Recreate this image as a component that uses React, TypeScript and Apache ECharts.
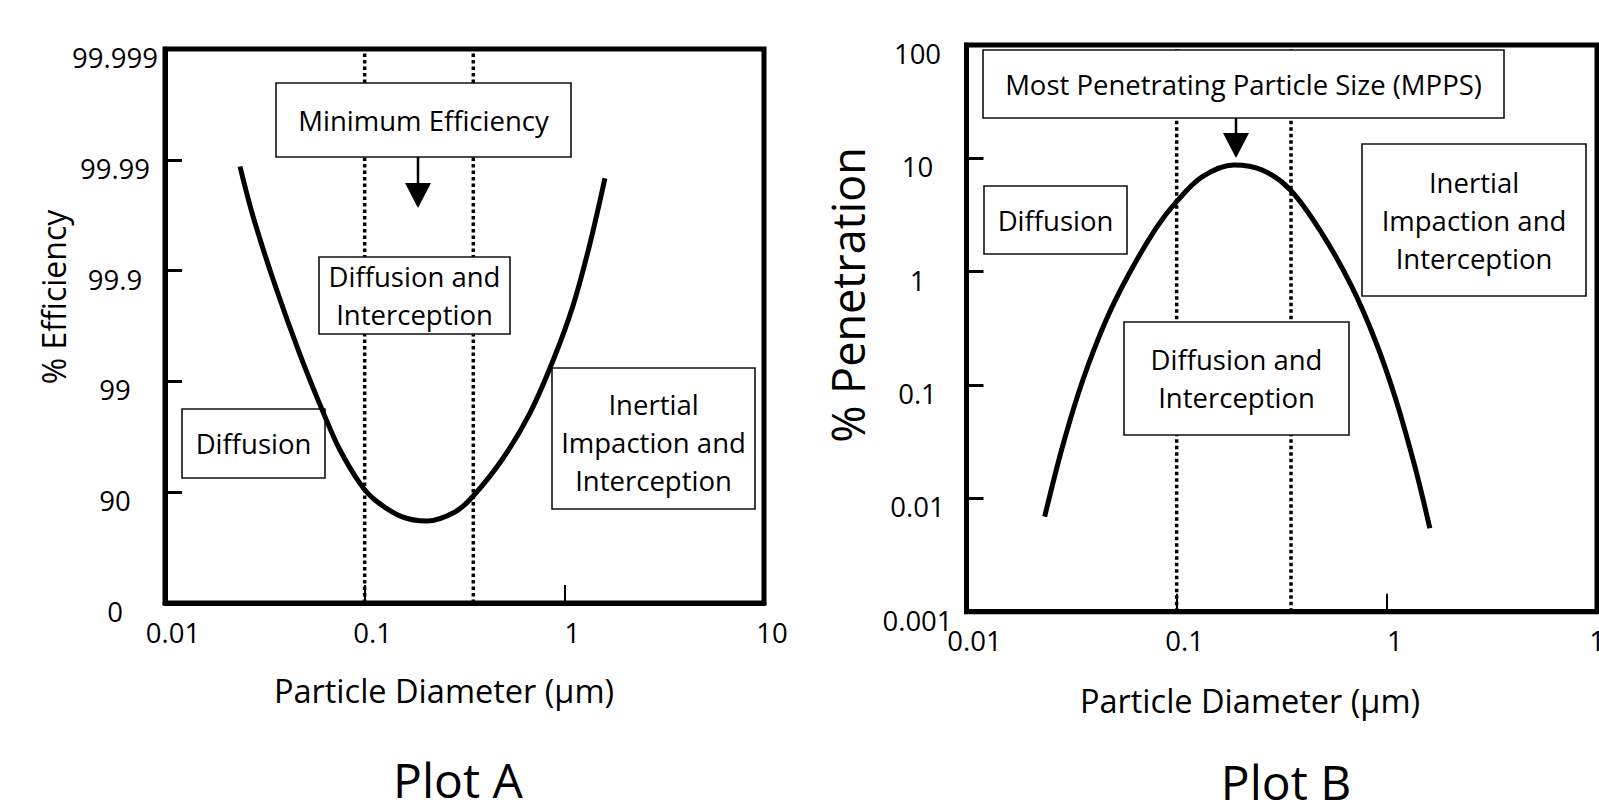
import React, { useEffect, useRef } from "react";
import * as echarts from "echarts";

// ---- Data ----
const xTickLabels = ["0.01", "0.1", "1", "10"];
const yTickLabelsA = ["0", "90", "99", "99.9", "99.99", "99.999"];
const yTickLabelsB = ["0.001", "0.01", "0.1", "1", "10", "100"];

// Plot A: % efficiency vs particle diameter (µm)
const diameterA = [0.02375, 0.02768, 0.03555, 0.04743, 0.06327, 0.07521, 0.09473, 0.1126, 0.1532, 0.2051, 0.2833, 0.3498, 0.4943, 0.6725, 0.88, 1.108, 1.344, 1.597];
const efficiencyA = [99.9885, 99.967, 99.865, 99.428, 97.92, 95.84, 91.68, 88.25, 83.37, 81.8, 84.91, 89.18, 95.09, 98.07, 99.359, 99.796, 99.943, 99.9853];

// Plot B: % penetration vs particle diameter (µm)
const diameterB = [0.02355, 0.02876, 0.03578, 0.04618, 0.05955, 0.07969, 0.09913, 0.1326, 0.1873, 0.2551, 0.3476, 0.4909, 0.6811, 0.879, 1.094, 1.36, 1.602];
const penetrationB = [0.0069, 0.02955, 0.1107, 0.3746, 0.968, 2.408, 4.085, 6.89, 8.74, 7.89, 5.26, 2.18, 0.738, 0.2497, 0.0783, 0.01905, 0.00545];

// region boundaries (dotted lines), µm
const regionBounds = [0.1, 0.35];

const FONT = "Open Sans";

function nines(eff: number) {
  return Math.log10(100 / (100 - eff));
}

function box(x1: number, y1: number, x2: number, y2: number, text: string, dy = 0) {
  return {
    type: "group",
    children: [
      {
        type: "rect",
        z: 5,
        shape: { x: x1, y: y1, width: x2 - x1, height: y2 - y1 },
        style: { fill: "#fff", stroke: "#111", lineWidth: 1.6 },
      },
      {
        type: "text",
        z: 6,
        x: (x1 + x2) / 2,
        y: (y1 + y2) / 2 + dy,
        style: {
          text,
          fill: "#000",
          fontFamily: FONT,
          fontSize: 27.5,
          lineHeight: 38,
          align: "center",
          verticalAlign: "middle",
          textAlign: "center",
          textVerticalAlign: "middle",
        },
      },
    ],
  };
}

function label(x: number, y: number, text: string, size: number, rot = 0) {
  return {
    type: "text",
    z: 6,
    x,
    y,
    rotation: rot,
    style: {
      text,
      fill: "#000",
      fontFamily: FONT,
      fontSize: size,
      lineHeight: Math.min(size, 40),
      align: "center",
      verticalAlign: "middle",
      textAlign: "center",
      textVerticalAlign: "middle",
    },
  };
}

function arrow(x: number, y1: number, headTop: number, tip: number, half: number) {
  return [
    {
      type: "line",
      z: 6,
      shape: { x1: x, y1, x2: x, y2: headTop + 2 },
      style: { stroke: "#000", lineWidth: 2.5 },
    },
    {
      type: "polygon",
      z: 6,
      shape: { points: [[x - half, headTop], [x + half, headTop], [x, tip]] },
      style: { fill: "#000" },
    },
  ];
}

export default function App() {
  const ref = useRef<HTMLDivElement>(null);

  useEffect(() => {
    if (!ref.current) return;
    const chart = echarts.init(ref.current, undefined, { renderer: "svg" });

    const axisCommonX = (gridIndex: number) => ({
      type: "log",
      logBase: 10,
      gridIndex,
      min: 0.01,
      max: 10,
      axisLine: { show: true, lineStyle: { color: "#000", width: 5 } },
      axisTick: { show: true, inside: true, length: 18, lineStyle: { color: "#000", width: 2 } },
      minorTick: { show: false },
      splitLine: { show: false },
      axisLabel: {
        color: "#000",
        fontFamily: FONT,
        fontSize: 27.5,
        margin: 15,
        padding: [0, 0, 0, 16],
        formatter: (v: number) => xTickLabels[Math.round(Math.log10(v)) + 2] ?? "",
      },
    });

    // y labels sit a little below their ticks in the reference: an empty first line shifts them down
    const yLabelStyle = (margin: number, labels: string[], idx: (v: number) => number) => ({
      color: "#000",
      fontFamily: FONT,
      fontSize: 27.5,
      lineHeight: 17,
      margin,
      align: "center",
      formatter: (v: number) => {
        const t = labels[idx(v)];
        return t === undefined ? "" : "\n" + t;
      },
    });

    const dottedSeries = (xAxisIndex: number, yMin: number, yMax: number) =>
      regionBounds.map((b) => ({
        type: "line",
        xAxisIndex,
        yAxisIndex: xAxisIndex,
        data: [
          [b, yMin],
          [b, yMax],
        ],
        symbol: "none",
        silent: true,
        z: 1,
        lineStyle: { color: "#000", width: 3.5, type: [3.5, 3] },
      }));

    const option: any = {
      animation: false,
      backgroundColor: "#fff",
      grid: [
        { left: 165, top: 49, width: 599, height: 554, show: true, borderColor: "#000", borderWidth: 5, backgroundColor: "transparent", containLabel: false, outerBoundsMode: "none" },
        { left: 966.5, top: 45, width: 630.5, height: 566.7, show: true, borderColor: "#000", borderWidth: 5, backgroundColor: "transparent", containLabel: false, outerBoundsMode: "none" },
      ],
      xAxis: [axisCommonX(0), axisCommonX(1)],
      yAxis: [
        {
          type: "value",
          gridIndex: 0,
          min: 0,
          max: 5,
          interval: 1,
          axisLine: { show: true, lineStyle: { color: "#000", width: 5 } },
          axisTick: { show: true, inside: true, length: 17, lineStyle: { color: "#000", width: 3 } },
          splitLine: { show: false },
          axisLabel: yLabelStyle(50, yTickLabelsA, (v) => Math.round(v)),
        },
        {
          type: "log",
          logBase: 10,
          gridIndex: 1,
          min: 0.001,
          max: 100,
          axisLine: { show: true, lineStyle: { color: "#000", width: 5 } },
          axisTick: { show: true, inside: true, length: 17, lineStyle: { color: "#000", width: 3 } },
          minorTick: { show: false },
          splitLine: { show: false },
          axisLabel: yLabelStyle(49, yTickLabelsB, (v) => Math.round(Math.log10(v)) + 3),
        },
      ],
      series: [
        ...dottedSeries(0, 0, 5),
        ...dottedSeries(1, 0.001, 100),
        {
          type: "line",
          xAxisIndex: 0,
          yAxisIndex: 0,
          data: diameterA.map((d, i) => [d, nines(efficiencyA[i])]),
          symbol: "none",
          smooth: 0.35,
          silent: true,
          z: 10,
          lineStyle: { color: "#000", width: 5 },
        },
        {
          type: "line",
          xAxisIndex: 1,
          yAxisIndex: 1,
          data: diameterB.map((d, i) => [d, penetrationB[i]]),
          symbol: "none",
          smooth: 0.35,
          silent: true,
          z: 10,
          lineStyle: { color: "#000", width: 5 },
        },
      ],
      graphic: [
        // Plot A annotations
        box(276, 83, 571, 157, "Minimum Efficiency"),
        box(319, 257, 510, 334, "Diffusion and\nInterception"),
        box(182, 409, 325, 478, "Diffusion"),
        box(552, 368, 755, 509, "Inertial\nImpaction and\nInterception", 4),
        ...arrow(418, 157, 183, 208, 13),
        // Plot B annotations
        box(983, 50, 1504, 118, "Most Penetrating Particle Size (MPPS)"),
        box(984, 186, 1127, 254, "Diffusion"),
        box(1362, 144, 1586, 296, "Inertial\nImpaction and\nInterception"),
        box(1124, 322, 1349, 435, "Diffusion and\nInterception"),
        ...arrow(1236, 118, 133, 158, 13),
        // axis titles
        label(53, 297, "% Efficiency", 32, Math.PI / 2),
        label(444, 690, "Particle Diameter (µm)", 32.5),
        label(458, 779, "Plot A", 48),
        label(847, 295, "% Penetration", 45, Math.PI / 2),
        label(1250, 700, "Particle Diameter (µm)", 32.5),
        label(1286, 781, "Plot B", 48),
      ],
    };

    chart.setOption(option);
    return () => chart.dispose();
  }, []);

  return (
    <div
      ref={ref}
      style={{ position: "fixed", left: 0, top: 0, width: 1599, height: 803, background: "#fff" }}
    />
  );
}
